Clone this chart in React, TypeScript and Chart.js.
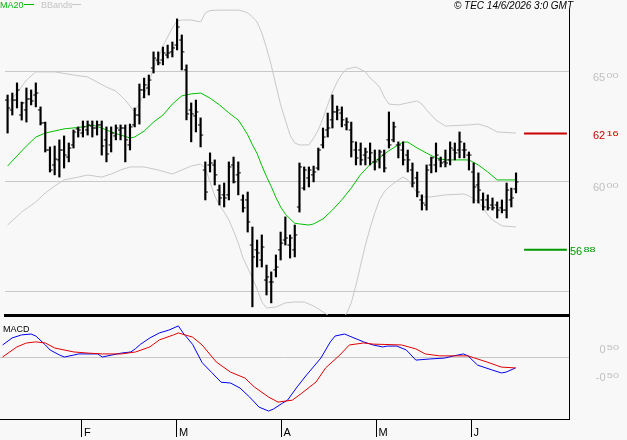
import React, { useEffect, useRef } from 'react';
import { Chart, registerables } from 'chart.js';

Chart.register(...registerables);

const FONT = '"Liberation Sans", Arial, Helvetica, sans-serif';

// ---- OHLC bars (one per trading day, from 8 Jan 2026 to 12 Jun 2026) ----
const highs = [6391,6400,6446,6359,6423,6414,6446,6337,6268,6155, 6159,6187,6205,6173,6232,6246,6273,6273,6273,6273, 6273,6246,6246,6255,6255,6255,6259,6332,6441,6468, 6482,6587,6587,6609,6618,6632,6737,6664,6528,6355, 6368,6287,6087,6128,6096,5982,5991,6087,6109,6087, 5937,5950,5791,5732,5755,5618,5587,5664,5768,5837, 5755,5800,6082,6064,6064,6068,6150,6241,6309,6391, 6341,6337,6287,6268,6178,6173,6150,6173,6141,6141, 6141,6314,6268,6178,6178,6141,6082,6041,5937,6073, 6109,6173,6109,6141,6178,6173,6223,6173,6132,6082, 6037,5946,5937,5923,5905,5914,5991,5968,6037];
const lows = [6218,6300,6332,6277,6268,6346,6337,6255,6132,6041, 6028,6018,6059,6087,6150,6200,6200,6209,6200,6209, 6118,6087,6132,6187,6187,6087,6141,6246,6259,6378, 6391,6491,6528,6528,6559,6564,6596,6505,6278,6178, 6223,6155,5914,6041,5982,5891,5882,5914,5991,5937, 5859,5768,5428,5609,5609,5482,5446,5564,5641,5709, 5650,5655,5859,5959,5973,5996,6050,6150,6200,6241, 6278,6246,6232,6109,6073,6073,6073,6073,6050,6059, 6041,6150,6178,6105,6073,6041,5973,5928,5868,5868, 6037,6041,6064,6064,6073,6096,6105,6105,6050,5900, 5900,5868,5868,5868,5832,5855,5832,5882,5946];
const opens = [6368,6323,6368,6300,6323,6373,6391,6323,6264,6141, 6073,6096,6141,6109,6164,6237,6218,6232,6250,6241, 6255,6187,6164,6205,6232,6241,6164,6255,6300,6414, 6423,6514,6550,6550,6573,6587,6618,6641,6505,6323, 6296,6255,6050,6073,6073,5959,5937,5937,6073,6028, 5914,5914,5709,5687,5641,5550,5541,5596,5687,5732, 5709,5687,5882,5968,6014,6028,6059,6164,6232,6278, 6314,6309,6255,6232,6141,6141,6118,6105,6087,6096, 6118,6187,6187,6164,6141,6118,6050,6014,5914,5891, 6073,6073,6096,6087,6096,6141,6141,6141,6118,6041, 5982,5914,5914,5891,5891,5878,5868,5914,5964];
const closes = [6332,6368,6414,6355,6373,6364,6400,6264,6141,6050, 6100,6141,6118,6150,6223,6232,6246,6255,6241,6255, 6159,6123,6218,6241,6241,6187,6246,6300,6414,6437, 6459,6559,6537,6582,6582,6605,6700,6587,6305,6305, 6314,6209,5950,6082,6028,5923,5923,6064,5996,6037, 5878,5814,5655,5673,5700,5564,5541,5609,5718,5741, 5741,5755,6064,6050,6050,6041,6141,6200,6241,6314, 6323,6278,6268,6178,6105,6096,6132,6128,6087,6132, 6059,6164,6246,6164,6096,6096,5991,5950,5900,6050, 6105,6118,6082,6082,6150,6128,6178,6141,6118,5973, 5959,5882,5878,5878,5868,5868,5959,5923,5996];

// ---- MA20 (sampled at bar indices) ----
const maIndex = [0,2,4,6,8,12,16,18,20,22,24,26,27,29,31,33,35,37,39,41,43,45,47,49,50,51,52,53,54,55,56,57,58,59,60,61,62,64,65,67,69,71,73,75,77,79,81,83,84,85,87,89,91,93,98,100,102,104,108];
const maValues = [6068,6114,6159,6200,6218,6237,6246,6255,6241,6223,6209,6196,6200,6227,6268,6300,6350,6387,6396,6400,6377,6346,6310,6277,6245,6210,6165,6125,6070,6020,5975,5925,5882,5850,5828,5808,5805,5800,5805,5828,5868,5915,5968,6030,6075,6105,6138,6164,6177,6177,6150,6127,6105,6096,6096,6073,6041,6005,6005];

// ---- Bollinger bands ----
const bbUpIndex = [0,2,4,6,10,14,17,19,21,23,25,26,27,28,29,30,31,32,33,34,35,36,37,39,41,42,43,45,49,50,51,52,53,54,55,56,57,58,59,60,61,62,64,65,66,67,68,69,70,71,72,74,76,77,78,79,80,81,83,85,87,88,89,91,93,98,100,102,104,108];
const bbUpValues = [6355,6400,6459,6496,6496,6482,6473,6450,6427,6409,6368,6341,6314,6355,6395,6446,6514,6559,6614,6655,6696,6727,6732,6732,6723,6764,6775,6777,6777,6772,6764,6746,6723,6673,6605,6527,6436,6346,6277,6209,6173,6164,6164,6196,6232,6286,6346,6405,6450,6486,6509,6518,6496,6468,6450,6427,6382,6350,6346,6355,6364,6350,6323,6277,6250,6255,6259,6246,6223,6218];
const bbLowIndex = [0,3,6,8,10,12,15,17,20,22,24,26,29,32,35,37,39,41,42,43,44,45,46,47,48,49,50,51,52,53,54,55,57,59,61,63,65,67,69,71,72,73,74,75,76,77,78,79,80,81,83,84,85,86,87,88,90,93,97,98,100,101,102,103,105,108];
const bbLowValues = [5800,5859,5905,5946,5977,6005,6018,6027,6018,6032,6050,6064,6064,6050,6032,6050,6068,6077,6059,5996,5932,5891,5859,5823,5773,5718,5650,5605,5559,5509,5450,5423,5427,5446,5450,5450,5432,5405,5377,5377,5396,5446,5527,5618,5709,5786,5855,5914,5950,5973,6005,6018,6005,5977,5946,5928,5928,5937,5941,5932,5905,5877,5846,5823,5796,5791];

// ---- MACD panel ----
const macdIndex = [0,2,4,6,7,9,10,12,13,15,16,20,21,23,25,27,28,29,31,33,35,37,38,40,42,44,46,48,50,52,54,56,57,59,60,62,64,67,69,70,72,73,76,78,80,81,83,85,87,90,93,95,97,98,100,103,105,106,108];
const macdValues = [0.43,0.68,0.79,0.82,0.75,0.43,0.25,0.07,0,0.07,0.11,0.11,0,0.07,0.14,0.18,0.3,0.45,0.68,0.86,0.96,1.11,0.86,0.45,-0.2,-0.55,-0.9,-0.93,-1.11,-1.43,-1.79,-1.93,-1.86,-1.64,-1.54,-1.07,-0.64,-0.04,0.54,0.75,0.82,0.75,0.54,0.43,0.36,0.39,0.39,0.25,-0.11,-0.07,-0.04,0.04,0.11,0.04,-0.29,-0.46,-0.57,-0.54,-0.39];
const signalIndex = [0,3,5,7,9,11,15,18,21,25,28,31,33,36,37,40,42,45,48,51,53,56,58,61,63,66,68,71,73,76,78,84,87,89,92,98,102,105,108];
const signalValues = [0,0.36,0.5,0.54,0.5,0.32,0.18,0.14,0.11,0.11,0.18,0.36,0.61,0.79,0.86,0.71,0.43,-0.18,-0.54,-0.75,-1.07,-1.43,-1.61,-1.54,-1.29,-0.89,-0.39,0.07,0.43,0.5,0.46,0.43,0.29,0.11,0.04,0.04,-0.18,-0.36,-0.39];

// ---- axes / levels ----
const monthStarts = [17, 37, 59, 79, 99];
const monthLabels = ['F', 'M', 'A', 'M', 'J'];
const priceGrid = [5500, 6000, 6500];
const priceLabels = [6000, 6500];
const resistance = 6216;
const support = 5688;
const macdLabels = [0.5, -0.5];

const pairs = (idx: number[], vals: number[]) => idx.map((x, k) => ({ x, y: vals[k] }));

function drawSplit(ctx: CanvasRenderingContext2D, big: string, small: string, x: number, baseline: number, align: 'left' | 'right', color: string) {
  ctx.save();
  ctx.fillStyle = color;
  ctx.textAlign = 'left';
  ctx.textBaseline = 'alphabetic';
  ctx.font = `11px ${FONT}`;
  const bw = ctx.measureText(big).width;
  const sw = ctx.measureText(small).width;
  const gap = 1.2;
  const x0 = align === 'right' ? x - sw - gap - bw : x;
  ctx.fillText(big, x0, baseline);
  ctx.translate(x0 + bw + gap, baseline - 3);
  ctx.scale(1, 0.64);
  ctx.fillText(small, 0, 0);
  ctx.restore();
}

const priceText = (v: number) => { const s = String(Math.round(v)); return [s.slice(0, -2), s.slice(-2)]; };
const macdText = (v: number) => { const s = v.toFixed(2); const [a, b] = s.split('.'); return [a === '0' && v < 0 ? '-0' : a, b]; };

const X_MIN = -0.55;
const X_MAX = 119.25;

export default function App() {
  const priceRef = useRef<HTMLCanvasElement>(null);
  const macdRef = useRef<HTMLCanvasElement>(null);

  useEffect(() => {
    const last = highs.length - 1;

    const priceText1 = {
      id: 'priceText',
      afterDraw(chart: any) {
        const ctx: CanvasRenderingContext2D = chart.ctx;
        const y = chart.scales.y;
        ctx.save();
        ctx.textBaseline = 'alphabetic';
        ctx.textAlign = 'left';
        ctx.font = `9px ${FONT}`;
        ctx.fillStyle = '#00bb00';
        ctx.fillText('MA20', 0, 8);
        ctx.strokeStyle = '#00bb00';
        ctx.lineWidth = 1;
        ctx.beginPath(); ctx.moveTo(24, 4.5); ctx.lineTo(34, 4.5); ctx.stroke();
        ctx.fillStyle = '#c4c4c4';
        ctx.fillText('BBands', 41, 8);
        ctx.strokeStyle = '#c4c4c4';
        ctx.beginPath(); ctx.moveTo(72, 4.5); ctx.lineTo(81, 4.5); ctx.stroke();
        ctx.font = `italic 10px ${FONT}`;
        ctx.fillStyle = '#000';
        ctx.textAlign = 'right';
        ctx.fillText('\u00A9 TEC 14/6/2026 3:0 GMT', 573, 9);
        ctx.restore();
        priceLabels.forEach(v => {
          const [a, b] = priceText(v);
          drawSplit(ctx, a, b, 593, y.getPixelForValue(v) + 10, 'left', '#c0c0c0');
        });
        const [ra, rb] = priceText(resistance);
        drawSplit(ctx, ra, rb, 593, y.getPixelForValue(resistance) + 5, 'left', '#cc0000');
        const [sa, sb] = priceText(support);
        drawSplit(ctx, sa, sb, 570, y.getPixelForValue(support) + 5, 'left', '#009900');
      },
    };

    const macdText1 = {
      id: 'macdText',
      afterDraw(chart: any) {
        const ctx: CanvasRenderingContext2D = chart.ctx;
        const y = chart.scales.y;
        ctx.save();
        ctx.font = `9px ${FONT}`;
        ctx.fillStyle = '#000';
        ctx.textAlign = 'left';
        ctx.textBaseline = 'alphabetic';
        ctx.fillText('MACD', 3, 15);
        ctx.restore();
        macdLabels.forEach(v => {
          const [a, b] = macdText(v);
          drawSplit(ctx, a, b, 619, y.getPixelForValue(v) + 10, 'right', '#c0c0c0');
        });
      },
    };

    const priceChart = new Chart(priceRef.current!, {
      type: 'line',
      data: {
        datasets: [
          {
            type: 'bar',
            data: highs.map((h, i) => ({ x: i, y: [lows[i], h] })) as any,
            backgroundColor: '#000',
            borderWidth: 0,
            barThickness: 1.5,
          } as any,
          {
            data: pairs(opens.map((_, i) => i), opens),
            showLine: false,
            pointStyle: 'dash',
            pointRadius: 2.6,
            pointRotation: 180,
            pointBorderColor: '#000',
            pointBackgroundColor: '#000',
            pointBorderWidth: 1,
          },
          {
            data: pairs(closes.map((_, i) => i), closes),
            showLine: false,
            pointStyle: 'dash',
            pointRadius: 2.6,
            pointRotation: 0,
            pointBorderColor: '#000',
            pointBackgroundColor: '#000',
            pointBorderWidth: 1,
          },
          { data: pairs(maIndex, maValues), borderColor: '#00c000', borderWidth: 1, pointRadius: 0, tension: 0 },
          { data: pairs(bbUpIndex, bbUpValues), borderColor: '#c8c8c8', borderWidth: 1, pointRadius: 0, tension: 0 },
          { data: pairs(bbLowIndex, bbLowValues), borderColor: '#c8c8c8', borderWidth: 1, pointRadius: 0, tension: 0 },
          { data: [{ x: last + 1.7, y: resistance }, { x: last + 10.8, y: resistance }], borderColor: '#cc0000', borderWidth: 2, pointRadius: 0 },
          { data: [{ x: last + 1.7, y: support }, { x: last + 10.8, y: support }], borderColor: '#009900', borderWidth: 2, pointRadius: 0 },
        ],
      },
      options: {
        animation: false,
        responsive: false,
        devicePixelRatio: 1,
        events: [],
        layout: { padding: { top: 9, bottom: 2, left: 0, right: 0 } },
        plugins: { legend: { display: false }, tooltip: { enabled: false } },
        scales: {
          x: {
            type: 'linear', min: X_MIN, max: X_MAX, offset: false, z: 1,
            ticks: { display: false },
            grid: { display: false, drawTicks: false, offset: false },
            border: { display: true, color: '#000', width: 3 },
          },
          y: {
            position: 'right', min: 5391, max: 6782,
            afterFit: (s: any) => { s.width = 58; },
            afterBuildTicks: (s: any) => { s.ticks = priceGrid.map(v => ({ value: v })); },
            ticks: { display: false },
            grid: { color: '#c8c8c8', drawTicks: false, lineWidth: 1 },
            border: { display: true, color: '#000', width: 1 },
          },
        },
      } as any,
      plugins: [priceText1],
    });

    const macdChart = new Chart(macdRef.current!, {
      type: 'line',
      data: {
        datasets: [
          { data: pairs(signalIndex, signalValues), borderColor: '#e00000', borderWidth: 1, pointRadius: 0, tension: 0 },
          { data: pairs(macdIndex, macdValues), borderColor: '#0000ee', borderWidth: 1, pointRadius: 0, tension: 0 },
        ],
      },
      options: {
        animation: false,
        responsive: false,
        devicePixelRatio: 1,
        events: [],
        layout: { padding: 0 },
        plugins: { legend: { display: false }, tooltip: { enabled: false } },
        scales: {
          x: {
            type: 'linear', min: X_MIN, max: X_MAX, offset: false,
            afterBuildTicks: (s: any) => { s.ticks = monthStarts.map(i => ({ value: i - 0.3 })); },
            afterFit: (s: any) => { s.height = 21; },
            ticks: {
              autoSkip: false, maxRotation: 0, minRotation: 0, align: 'start', labelOffset: 2, padding: -11,
              color: '#000', font: { family: FONT, size: 11 },
              callback: (_v: any, idx: number) => monthLabels[idx] ?? '',
            },
            grid: { display: true, drawOnChartArea: false, drawTicks: true, tickLength: 18, tickColor: '#000', tickWidth: 1, offset: false },
            border: { display: true, color: '#000', width: 1 },
          },
          y: {
            position: 'right', min: -2.214, max: 1.4286,
            afterFit: (s: any) => { s.width = 58; },
            afterBuildTicks: (s: any) => { s.ticks = [{ value: 0 }]; },
            ticks: { display: false },
            grid: { color: '#c8c8c8', drawTicks: false, lineWidth: 1 },
            border: { display: true, color: '#000', width: 1 },
          },
        },
      } as any,
      plugins: [macdText1],
    });

    return () => { priceChart.destroy(); macdChart.destroy(); };
  }, []);

  return (
    <div style={{ position: 'fixed', left: 0, top: 0, width: 627, height: 440, background: '#f8f8f8', overflow: 'hidden' }}>
      <canvas ref={priceRef} width={627} height={320} style={{ position: 'absolute', left: 0, top: 0, width: 627, height: 320 }} />
      <canvas ref={macdRef} width={627} height={123} style={{ position: 'absolute', left: 0, top: 317, width: 627, height: 123 }} />
    </div>
  );
}
